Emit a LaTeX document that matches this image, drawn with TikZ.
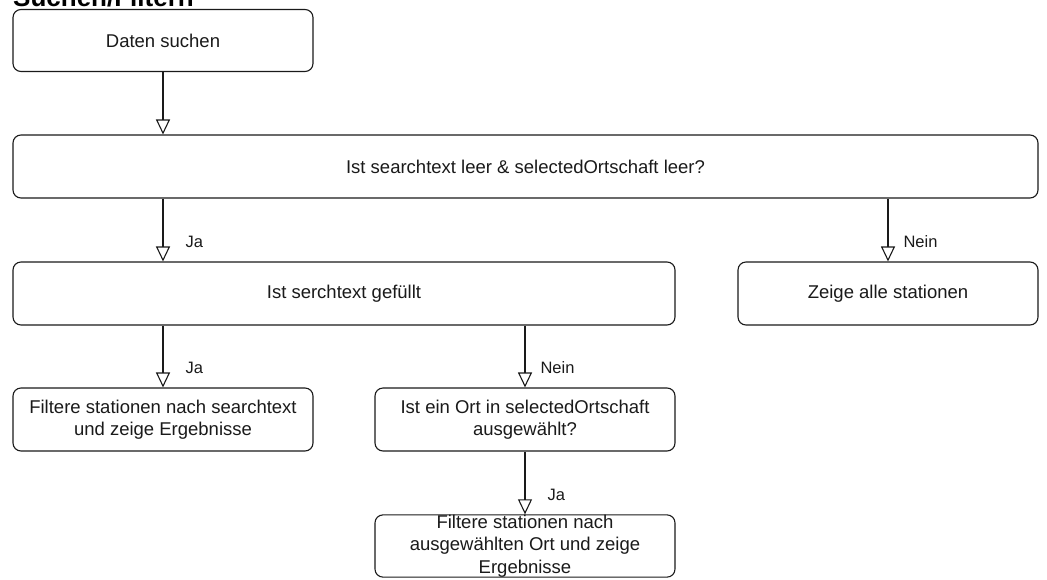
\documentclass[tikz,border=0pt]{standalone}
\usepackage{fontspec}
\setmainfont{Liberation Sans}
\usetikzlibrary{arrows.meta}
\definecolor{ink}{HTML}{1A1A1A}
\begin{document}
\begin{tikzpicture}[x=1pt,y=-1pt,
  box/.style={draw=ink, line width=1.1pt, rounded corners=8pt, fill=white,
    inner sep=0pt, align=center, text=ink,
    font=\fontsize{18.5}{22.5}\selectfont},
  arr/.style={draw=ink, line width=1.1pt,
    -{Triangle[open, width=14pt, length=15pt, line width=1.1pt]}},
  lab/.style={anchor=west, inner sep=0pt, text=ink, font=\fontsize{16.5}{19}\selectfont}
]
\useasboundingbox (0,0) rectangle (1047,579);
\node[anchor=base west, inner sep=0pt, font=\fontsize{26}{30}\bfseries, text=black] (title) at (13,6) {Suchen/Filtern};

\node[box, minimum width=300pt, minimum height=62pt] (n1) at (163,40.5) {Daten suchen};
\node[box, minimum width=1025pt, minimum height=63pt] (n2) at (525.5,166.5) {Ist searchtext leer \& selectedOrtschaft leer?};
\node[box, minimum width=662pt, minimum height=63pt] (n3) at (344,293.5) {Ist serchtext gefüllt};
\node[box, minimum width=300pt, minimum height=63pt] (n4) at (888,293.5) {Zeige alle stationen};
\node[box, minimum width=300pt, minimum height=63pt] (n5) at (163,419.5) {Filtere stationen nach searchtext\\und zeige Ergebnisse};
\node[box, minimum width=300pt, minimum height=63pt] (n6) at (525,419.5) {Ist ein Ort in selectedOrtschaft\\ausgewählt?};
\node[box, minimum width=300pt, minimum height=62pt] (n7) at (525,546) {Filtere stationen nach\\ausgewählten Ort und zeige\\Ergebnisse};

\draw[arr] (n1.south) -- (n2.north -| n1.south);
\draw[arr] (n2.south -| n1.south) -- node[lab, pos=0.69, xshift=22pt] {Ja} (n3.north -| n1.south);
\draw[arr] (n2.south -| n4.north) -- node[lab, pos=0.69, xshift=15pt] {Nein} (n4.north);
\draw[arr] (n3.south -| n5.north) -- node[lab, pos=0.68, xshift=22pt] {Ja} (n5.north);
\draw[arr] (n3.south -| n6.north) -- node[lab, pos=0.68, xshift=15pt] {Nein} (n6.north);
\draw[arr] (n6.south) -- node[lab, pos=0.69, xshift=22pt] {Ja} (n7.north);
\end{tikzpicture}
\end{document}
